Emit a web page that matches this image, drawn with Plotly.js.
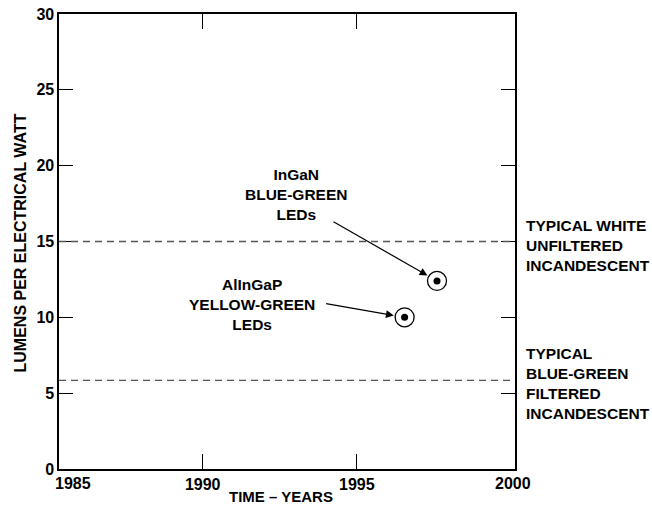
<!DOCTYPE html>
<html>
<head>
<meta charset="utf-8">
<script src="https://cdn.plot.ly/plotly-3.0.1.min.js"></script>
<style>html,body{margin:0;padding:0;background:#fff;}#chart{width:652px;height:506px;}</style>
</head>
<body>
<div id="chart"></div>
<script>
// ---- data ----
const ledNames = ['InGaN', 'AlInGaP'];
const ledLabels = ['InGaN<br>BLUE-GREEN<br>LEDs', 'AlInGaP<br>YELLOW-GREEN<br>LEDs'];
const ledYears = [1997.6, 1996.55];
const ledLumensPerWatt = [12.4, 10.0];

const refLevels = [15.0, 5.85];
const refLabels = ['TYPICAL WHITE<br>UNFILTERED<br>INCANDESCENT', 'TYPICAL<br>BLUE-GREEN<br>FILTERED<br>INCANDESCENT'];

const xTickVals = [1985, 1990, 1995, 2000];
const xTickLabels = ['1985', '1990', '1995', '2000'];
const yTickVals = [0, 5, 10, 15, 20, 25, 30];
const yTickLabels = ['0', '5', '10', '15', '20', '25', '30'];

const xTitle = 'TIME \u2013 YEARS';
const yTitle = 'LUMENS PER ELECTRICAL WATT';

// ---- chart ----
const FONT = 'Liberation Sans, Arial, Helvetica, sans-serif';
const TICKSIZE = 16;

const traces = [
  {
    x: ledYears, y: ledLumensPerWatt, type: 'scatter', mode: 'markers',
    name: 'ring', hoverinfo: 'skip', showlegend: false, cliponaxis: false,
    marker: {symbol: 'circle-open', size: 19, color: '#000', line: {width: 1.3, color: '#000'}}
  },
  {
    x: ledYears, y: ledLumensPerWatt, type: 'scatter', mode: 'markers',
    name: 'dot', text: ledNames, showlegend: false, cliponaxis: false,
    marker: {symbol: 'circle', size: 7, color: '#000'}
  }
];

const shapes = refLevels.map(v => ({
  type: 'line', xref: 'paper', x0: 0, x1: 1, yref: 'y', y0: v, y1: v,
  line: {color: '#555', width: 1.3, dash: '7px,5px'}
}));

const annotations = [];
// LED label texts
const labelPos = [[0.519, 0.604], [0.424, 0.3624]];
ledLabels.forEach((t, i) => annotations.push({
  text: t, xref: 'paper', yref: 'paper', x: labelPos[i][0], y: labelPos[i][1],
  xanchor: 'center', yanchor: 'middle', showarrow: false, align: 'center',
  font: {family: FONT, size: 15.5, color: '#000', weight: 700}
}));
// arrows
const arrowOff = [[-105, -60], [-80, -14]];
ledYears.forEach((yr, i) => annotations.push({
  text: '', x: yr, y: ledLumensPerWatt[i], xref: 'x', yref: 'y',
  showarrow: true, ax: arrowOff[i][0], ay: arrowOff[i][1],
  arrowhead: 2, arrowsize: 1.3, arrowwidth: 1.2, arrowcolor: '#000', standoff: 11
}));
// reference labels on the right
const refShift = [-4, -3];
refLabels.forEach((t, i) => annotations.push({
  text: t, xref: 'paper', x: 1, xshift: 9, yref: 'y', y: refLevels[i], yshift: refShift[i],
  xanchor: 'left', yanchor: 'middle', align: 'left', showarrow: false,
  font: {family: FONT, size: 15.5, color: '#000', weight: 700}
}));
// end x tick labels (1985 sits right of the y=0 label; 2000 sits on the frame edge)
[[0, xTickLabels[0], 14], [1, xTickLabels[3], -2]].forEach(([px, t, sh]) => annotations.push({
  text: t, xref: 'paper', yref: 'paper', x: px, xshift: sh, y: 0, yshift: -4,
  xanchor: 'center', yanchor: 'top', showarrow: false,
  font: {family: FONT, size: TICKSIZE, color: '#000', weight: 700}
}));
// axis titles
annotations.push({
  text: yTitle, xref: 'paper', yref: 'paper', x: 0, xshift: -38, y: 0.4956,
  xanchor: 'center', yanchor: 'middle', textangle: -90, showarrow: false,
  font: {family: FONT, size: 16, color: '#000', weight: 700}
});
annotations.push({
  text: xTitle, xref: 'paper', yref: 'paper', x: 0, xshift: 222, y: 0, yshift: -27,
  xanchor: 'center', yanchor: 'middle', showarrow: false, borderpad: 0,
  font: {family: FONT, size: 15, color: '#000', weight: 700}
});

const layout = {
  width: 652, height: 506,
  margin: {l: 59, r: 137, t: 14, b: 37, pad: 0},
  paper_bgcolor: '#fff', plot_bgcolor: '#fff',
  font: {family: FONT, size: 15, color: '#000', weight: 700},
  showlegend: false,
  xaxis: {
    range: [1985.34, 2000.13],
    tickmode: 'array', tickvals: xTickVals.slice(1, 3), ticktext: xTickLabels.slice(1, 3),
    ticks: 'inside', ticklen: 15, tickwidth: 1.1, tickcolor: '#000',
    showline: true, linecolor: '#000', linewidth: 1.6, mirror: 'ticks',
    showgrid: false, zeroline: false,
    tickfont: {family: FONT, size: TICKSIZE, color: '#000', weight: 700}
  },
  yaxis: {
    range: [0, 30],
    tickmode: 'array', tickvals: yTickVals, ticktext: yTickLabels,
    ticks: 'inside', ticklen: 14, tickwidth: 1.1, tickcolor: '#000',
    showline: true, linecolor: '#000', linewidth: 1.6, mirror: 'ticks',
    showgrid: false, zeroline: false,
    tickfont: {family: FONT, size: TICKSIZE, color: '#000', weight: 700}
  },
  shapes: shapes,
  annotations: annotations
};

Plotly.newPlot('chart', traces, layout, {displayModeBar: false, staticPlot: true});
</script>
</body>
</html>
